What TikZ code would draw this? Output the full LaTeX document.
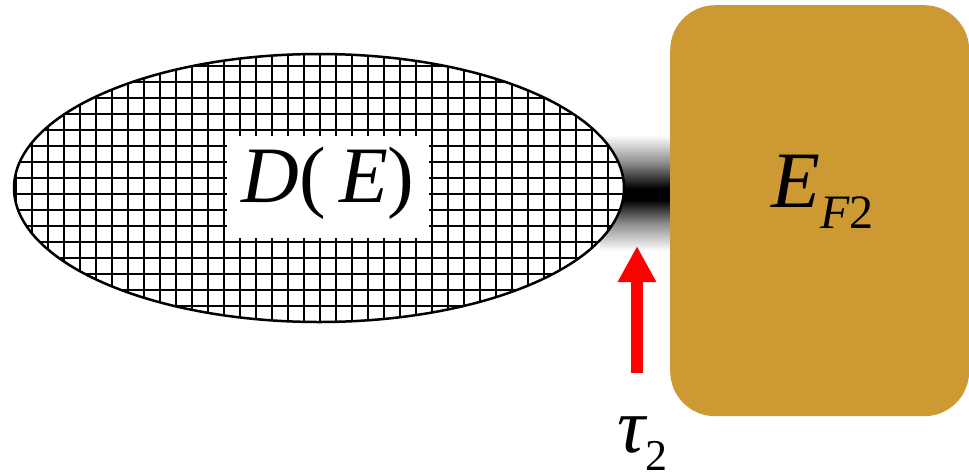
\documentclass[tikz,border=0pt]{standalone}
\usepackage{fontspec}
\setmainfont{Liberation Serif}
\newfontfamily\lsi{Liberation Serif Italic}
\usetikzlibrary{shapes.geometric,arrows.meta}
\definecolor{gold}{RGB}{205,153,51}
\pgfdeclareverticalshading{barshade}{100bp}{color(0bp)=(white); color(25bp)=(white); color(37bp)=(black!45); color(47bp)=(black); color(52bp)=(black); color(63bp)=(black!45); color(75bp)=(white); color(100bp)=(white)}
\tikzset{
  gridline/.style={line width=1.8pt, black},
  outline/.style={line width=2.5pt, black},
  arrowstyle/.style={line width=12pt, red, -{Triangle[width=36pt,length=36pt]}},
  labeltext/.style={inner sep=0pt},
}
\begin{document}
\begin{tikzpicture}[x=1pt,y=-1pt]
\useasboundingbox (0,0) rectangle (969,472);
% gradient link behind the ellipse and the box
\shade[shading=barshade] (600,135) rectangle (672,251);
% ellipse body
\node[ellipse, fill=white, minimum width=610pt, minimum height=268pt, inner sep=0pt] (dos) at (319,188) {};
\begin{scope}
  \clip (dos.center) ellipse [x radius=305, y radius=134];
  \foreach \k in {0,...,37} {
    \draw[gridline] (15.7+16*\k,40) -- (15.7+16*\k,340);
  }
  \foreach \k in {0,...,17} {
    \draw[gridline] (0,49.7+16*\k) -- (640,49.7+16*\k);
  }
\end{scope}
\node[fill=white, inner sep=0pt, minimum width=202pt, minimum height=102pt] (dbox) at (328,187) {};
\draw[outline] (dos.center) ellipse [x radius=305, y radius=134];
\node[labeltext, anchor=base] (de) at (328,202) {\fontsize{80}{80}\selectfont{\lsi D}(\,{\lsi E})};
% Fermi level box
\node[fill=gold, rounded corners=45pt, minimum width=299pt, minimum height=411pt, inner sep=0pt, anchor=north west] (fermi) at (670,5) {};
\node[labeltext, anchor=base west] (ef) at (771,207) {\fontsize{80}{80}\selectfont{\lsi E}\raisebox{-21pt}{\fontsize{48}{48}\selectfont{\lsi F}2}};
% arrow and tau label
\coordinate (atail) at (637,373);
\coordinate (atip) at (637,246);
\draw[arrowstyle] (atail) -- (atip);
\node[labeltext, anchor=base west] (tau) at (617,452) {\fontsize{78}{78}\selectfont{\lsi τ}\raisebox{-18pt}{\fontsize{44}{44}\selectfont 2}};
\end{tikzpicture}
\end{document}
